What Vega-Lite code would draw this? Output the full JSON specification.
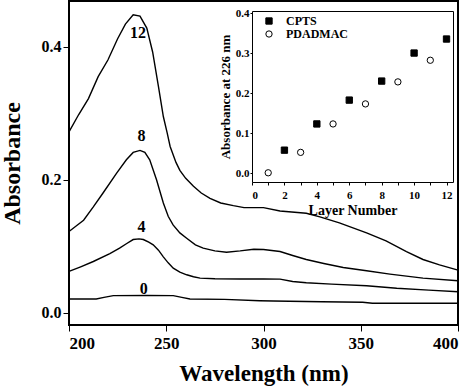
{
  "$schema": "https://vega.github.io/schema/vega-lite/v6.json",
  "width": 389,
  "height": 324,
  "autosize": "none",
  "padding": {"left": 69, "top": 1, "right": 16, "bottom": 64},
  "background": "white",
  "datasets": {
    "spectra": [
      {"layers": "12", "wavelength": 200, "absorbance": 0.272},
      {"layers": "12", "wavelength": 205, "absorbance": 0.298},
      {"layers": "12", "wavelength": 210, "absorbance": 0.322},
      {"layers": "12", "wavelength": 215, "absorbance": 0.355},
      {"layers": "12", "wavelength": 220, "absorbance": 0.38},
      {"layers": "12", "wavelength": 225, "absorbance": 0.412},
      {"layers": "12", "wavelength": 229, "absorbance": 0.434},
      {"layers": "12", "wavelength": 233, "absorbance": 0.448},
      {"layers": "12", "wavelength": 236.5, "absorbance": 0.446},
      {"layers": "12", "wavelength": 240, "absorbance": 0.428},
      {"layers": "12", "wavelength": 243, "absorbance": 0.392},
      {"layers": "12", "wavelength": 246, "absorbance": 0.34},
      {"layers": "12", "wavelength": 248.5, "absorbance": 0.295},
      {"layers": "12", "wavelength": 250.5, "absorbance": 0.27},
      {"layers": "12", "wavelength": 252, "absorbance": 0.25},
      {"layers": "12", "wavelength": 255, "absorbance": 0.226},
      {"layers": "12", "wavelength": 257, "absorbance": 0.214},
      {"layers": "12", "wavelength": 260, "absorbance": 0.202},
      {"layers": "12", "wavelength": 264, "absorbance": 0.19},
      {"layers": "12", "wavelength": 268, "absorbance": 0.18},
      {"layers": "12", "wavelength": 272.5, "absorbance": 0.172},
      {"layers": "12", "wavelength": 278, "absorbance": 0.165},
      {"layers": "12", "wavelength": 284.5, "absorbance": 0.161},
      {"layers": "12", "wavelength": 290, "absorbance": 0.158},
      {"layers": "12", "wavelength": 300, "absorbance": 0.158},
      {"layers": "12", "wavelength": 308.5, "absorbance": 0.153},
      {"layers": "12", "wavelength": 322, "absorbance": 0.1495},
      {"layers": "12", "wavelength": 329, "absorbance": 0.144},
      {"layers": "12", "wavelength": 339, "absorbance": 0.135},
      {"layers": "12", "wavelength": 353, "absorbance": 0.12},
      {"layers": "12", "wavelength": 363, "absorbance": 0.108},
      {"layers": "12", "wavelength": 373.5, "absorbance": 0.092},
      {"layers": "12", "wavelength": 382, "absorbance": 0.08},
      {"layers": "12", "wavelength": 390.5, "absorbance": 0.072},
      {"layers": "12", "wavelength": 400, "absorbance": 0.064},
      {"layers": "8", "wavelength": 200, "absorbance": 0.122},
      {"layers": "8", "wavelength": 203.5, "absorbance": 0.13},
      {"layers": "8", "wavelength": 207.5, "absorbance": 0.139},
      {"layers": "8", "wavelength": 212.5, "absorbance": 0.159},
      {"layers": "8", "wavelength": 217.5, "absorbance": 0.18},
      {"layers": "8", "wavelength": 224.5, "absorbance": 0.21},
      {"layers": "8", "wavelength": 229.5, "absorbance": 0.23},
      {"layers": "8", "wavelength": 233, "absorbance": 0.241},
      {"layers": "8", "wavelength": 236.5, "absorbance": 0.244},
      {"layers": "8", "wavelength": 239, "absorbance": 0.241},
      {"layers": "8", "wavelength": 241.5, "absorbance": 0.23},
      {"layers": "8", "wavelength": 245, "absorbance": 0.2},
      {"layers": "8", "wavelength": 248.5, "absorbance": 0.165},
      {"layers": "8", "wavelength": 251, "absorbance": 0.145},
      {"layers": "8", "wavelength": 253.5, "absorbance": 0.132},
      {"layers": "8", "wavelength": 257, "absorbance": 0.12},
      {"layers": "8", "wavelength": 260.5, "absorbance": 0.112},
      {"layers": "8", "wavelength": 265, "absorbance": 0.102},
      {"layers": "8", "wavelength": 269, "absorbance": 0.097},
      {"layers": "8", "wavelength": 275, "absorbance": 0.093},
      {"layers": "8", "wavelength": 281, "absorbance": 0.091},
      {"layers": "8", "wavelength": 288, "absorbance": 0.093},
      {"layers": "8", "wavelength": 295, "absorbance": 0.0955},
      {"layers": "8", "wavelength": 300, "absorbance": 0.095},
      {"layers": "8", "wavelength": 308.5, "absorbance": 0.092},
      {"layers": "8", "wavelength": 315, "absorbance": 0.086},
      {"layers": "8", "wavelength": 322, "absorbance": 0.08},
      {"layers": "8", "wavelength": 331, "absorbance": 0.074},
      {"layers": "8", "wavelength": 341, "absorbance": 0.068},
      {"layers": "8", "wavelength": 353, "absorbance": 0.063},
      {"layers": "8", "wavelength": 365, "absorbance": 0.058},
      {"layers": "8", "wavelength": 382, "absorbance": 0.052},
      {"layers": "8", "wavelength": 400, "absorbance": 0.048},
      {"layers": "4", "wavelength": 200, "absorbance": 0.062},
      {"layers": "4", "wavelength": 206, "absorbance": 0.069},
      {"layers": "4", "wavelength": 212.5, "absorbance": 0.077},
      {"layers": "4", "wavelength": 221, "absorbance": 0.089},
      {"layers": "4", "wavelength": 226, "absorbance": 0.097},
      {"layers": "4", "wavelength": 229.7, "absorbance": 0.104},
      {"layers": "4", "wavelength": 233, "absorbance": 0.11},
      {"layers": "4", "wavelength": 236, "absorbance": 0.111},
      {"layers": "4", "wavelength": 238.2, "absorbance": 0.11},
      {"layers": "4", "wavelength": 241, "absorbance": 0.106},
      {"layers": "4", "wavelength": 243.3, "absorbance": 0.102},
      {"layers": "4", "wavelength": 246, "absorbance": 0.094},
      {"layers": "4", "wavelength": 248.5, "absorbance": 0.084},
      {"layers": "4", "wavelength": 251, "absorbance": 0.075},
      {"layers": "4", "wavelength": 253.6, "absorbance": 0.067},
      {"layers": "4", "wavelength": 257, "absorbance": 0.061},
      {"layers": "4", "wavelength": 260.5, "absorbance": 0.057},
      {"layers": "4", "wavelength": 264, "absorbance": 0.054},
      {"layers": "4", "wavelength": 267.4, "absorbance": 0.052},
      {"layers": "4", "wavelength": 275, "absorbance": 0.051},
      {"layers": "4", "wavelength": 288, "absorbance": 0.0507},
      {"layers": "4", "wavelength": 300, "absorbance": 0.0507},
      {"layers": "4", "wavelength": 308.5, "absorbance": 0.0505},
      {"layers": "4", "wavelength": 315, "absorbance": 0.047},
      {"layers": "4", "wavelength": 322, "absorbance": 0.045},
      {"layers": "4", "wavelength": 335, "absorbance": 0.043},
      {"layers": "4", "wavelength": 353, "absorbance": 0.0406},
      {"layers": "4", "wavelength": 368.5, "absorbance": 0.0367},
      {"layers": "4", "wavelength": 385, "absorbance": 0.034},
      {"layers": "4", "wavelength": 400, "absorbance": 0.0316},
      {"layers": "0", "wavelength": 200, "absorbance": 0.0206},
      {"layers": "0", "wavelength": 214, "absorbance": 0.0206},
      {"layers": "0", "wavelength": 218, "absorbance": 0.023},
      {"layers": "0", "wavelength": 222.8, "absorbance": 0.0256},
      {"layers": "0", "wavelength": 240, "absorbance": 0.0258},
      {"layers": "0", "wavelength": 253.6, "absorbance": 0.0256},
      {"layers": "0", "wavelength": 258, "absorbance": 0.023},
      {"layers": "0", "wavelength": 262.2, "absorbance": 0.0206},
      {"layers": "0", "wavelength": 280, "absorbance": 0.02},
      {"layers": "0", "wavelength": 298, "absorbance": 0.018},
      {"layers": "0", "wavelength": 305, "absorbance": 0.0176},
      {"layers": "0", "wavelength": 330, "absorbance": 0.0165},
      {"layers": "0", "wavelength": 351, "absorbance": 0.0156},
      {"layers": "0", "wavelength": 356, "absorbance": 0.0141},
      {"layers": "0", "wavelength": 400, "absorbance": 0.0141}
    ],
    "labels": [
      {"label": "12", "wavelength": 235.5, "absorbance": 0.421},
      {"label": "8", "wavelength": 237.3, "absorbance": 0.266},
      {"label": "4", "wavelength": 237.3, "absorbance": 0.129},
      {"label": "0", "wavelength": 238.4, "absorbance": 0.0356}
    ],
    "inset": [
      {"polymer": "CPTS", "layer": 2, "abs226": 0.0575},
      {"polymer": "CPTS", "layer": 4, "abs226": 0.123},
      {"polymer": "CPTS", "layer": 6, "abs226": 0.1825},
      {"polymer": "CPTS", "layer": 8, "abs226": 0.23},
      {"polymer": "CPTS", "layer": 10, "abs226": 0.3},
      {"polymer": "CPTS", "layer": 12, "abs226": 0.335},
      {"polymer": "PDADMAC", "layer": 1, "abs226": 0.001},
      {"polymer": "PDADMAC", "layer": 3, "abs226": 0.052},
      {"polymer": "PDADMAC", "layer": 5, "abs226": 0.123},
      {"polymer": "PDADMAC", "layer": 7, "abs226": 0.173},
      {"polymer": "PDADMAC", "layer": 9, "abs226": 0.228},
      {"polymer": "PDADMAC", "layer": 11, "abs226": 0.282}
    ]
  },
  "layer": [
    {
      "data": {"name": "spectra"},
      "mark": {"type": "line", "stroke": "black", "strokeWidth": 1.4},
      "encoding": {
        "x": {
          "field": "wavelength",
          "type": "quantitative",
          "scale": {"domain": [200, 400], "nice": false, "zero": false},
          "axis": {
            "values": [200, 250, 300, 350, 400],
            "title": "Wavelength (nm)",
            "tickSize": 6,
            "labelFontSize": 17,
            "labelPadding": 4,
            "titleFontSize": 23,
            "titlePadding": 11
          }
        },
        "y": {
          "field": "absorbance",
          "type": "quantitative",
          "scale": {"domain": [-0.0185, 0.4687], "nice": false, "zero": false},
          "axis": {
            "values": [0, 0.2, 0.4],
            "format": ".1f",
            "title": "Absorbance",
            "tickSize": 6,
            "labelFontSize": 16,
            "labelPadding": 2,
            "titleFontSize": 24,
            "titlePadding": 17
          }
        },
        "detail": {"field": "layers", "type": "nominal"}
      }
    },
    {
      "data": {"name": "labels"},
      "mark": {"type": "text", "font": "Liberation Serif", "fontWeight": "bold", "fontSize": 16, "color": "black", "baseline": "middle", "align": "center"},
      "encoding": {
        "x": {"field": "wavelength", "type": "quantitative", "scale": {"domain": [200, 400], "nice": false, "zero": false}, "axis": null},
        "y": {"field": "absorbance", "type": "quantitative", "scale": {"domain": [-0.0185, 0.4687], "nice": false, "zero": false}, "axis": null},
        "text": {"field": "label", "type": "nominal"}
      }
    },
    {
      "data": {"name": "inset"},
      "layer": [
        {
          "transform": [{"filter": "datum.polymer === 'CPTS'"}],
          "mark": {"type": "point", "filled": true, "size": 40, "strokeWidth": 1, "opacity": 1},
          "encoding": {
            "x": {
              "field": "layer",
              "type": "quantitative",
              "scale": {"domain": [0, 12.4], "range": [183, 384], "nice": false, "zero": false},
              "axis": {
                "orient": "bottom",
                "offset": -143,
                "values": [0, 1, 2, 3, 4, 5, 6, 7, 8, 9, 10, 11, 12],
                "labelExpr": "datum.value % 2 == 0 ? datum.label : ''",
                "title": "Layer Number",
                "tickSize": 3,
                "labelFontSize": 11,
                "labelPadding": 4,
                "titleFontSize": 14,
                "titlePadding": 3,
                "domainColor": "black",
                "domainWidth": 1
              }
            },
            "y": {
              "field": "abs226",
              "type": "quantitative",
              "scale": {"domain": [-0.022, 0.405], "range": [181, 10], "nice": false, "zero": false},
              "axis": {
                "orient": "left",
                "offset": -183,
                "values": [0, 0.1, 0.2, 0.3, 0.4],
                "format": ".1f",
                "title": "Absorbance at 226 nm",
                "tickSize": 2,
                "labelFontSize": 11,
                "labelPadding": 1,
                "titleFontSize": 13,
                "titlePadding": 3,
                "domainColor": "black",
                "domainWidth": 1
              }
            },
            "fill": {"field": "polymer", "type": "nominal", "scale": {"domain": ["CPTS", "PDADMAC"], "range": ["black", "white"]}},
            "stroke": {"field": "polymer", "type": "nominal", "scale": {"domain": ["CPTS", "PDADMAC"], "range": ["black", "black"]}},
            "shape": {"field": "polymer", "type": "nominal", "scale": {"domain": ["CPTS", "PDADMAC"], "range": ["square", "circle"]}}
          }
        },
        {
          "transform": [{"filter": "datum.polymer === 'PDADMAC'"}],
          "mark": {"type": "point", "filled": true, "size": 40, "strokeWidth": 1, "opacity": 1},
          "encoding": {
            "x": {
              "field": "layer",
              "type": "quantitative",
              "axis": {"orient": "top", "offset": -10, "labels": false, "ticks": false, "title": null, "domainColor": "black", "domainWidth": 1}
            },
            "y": {
              "field": "abs226",
              "type": "quantitative",
              "axis": {"orient": "right", "offset": -5, "labels": false, "ticks": false, "title": null, "domainColor": "black", "domainWidth": 1}
            },
            "fill": {"field": "polymer", "type": "nominal"},
            "stroke": {"field": "polymer", "type": "nominal"},
            "shape": {"field": "polymer", "type": "nominal"}
          }
        }
      ],
      "resolve": {"axis": {"x": "independent", "y": "independent"}}
    }
  ],
  "resolve": {
    "scale": {"x": "independent", "y": "independent", "shape": "independent", "fill": "independent", "stroke": "independent"},
    "axis": {"x": "independent", "y": "independent"}
  },
  "config": {
    "view": {"stroke": "black", "strokeWidth": 2},
    "font": "Liberation Serif",
    "axis": {
      "grid": false,
      "domainColor": "black",
      "tickColor": "black",
      "labelColor": "black",
      "titleColor": "black",
      "labelFontWeight": "bold",
      "titleFontWeight": "bold"
    },
    "legend": {
      "orient": "none",
      "legendX": 194,
      "legendY": 14,
      "title": null,
      "padding": 0,
      "rowPadding": 1,
      "labelColor": "black",
      "labelFontSize": 12,
      "labelFontWeight": "bold",
      "labelOffset": 11,
      "symbolSize": 40,
      "symbolStrokeWidth": 1
    }
  }
}
